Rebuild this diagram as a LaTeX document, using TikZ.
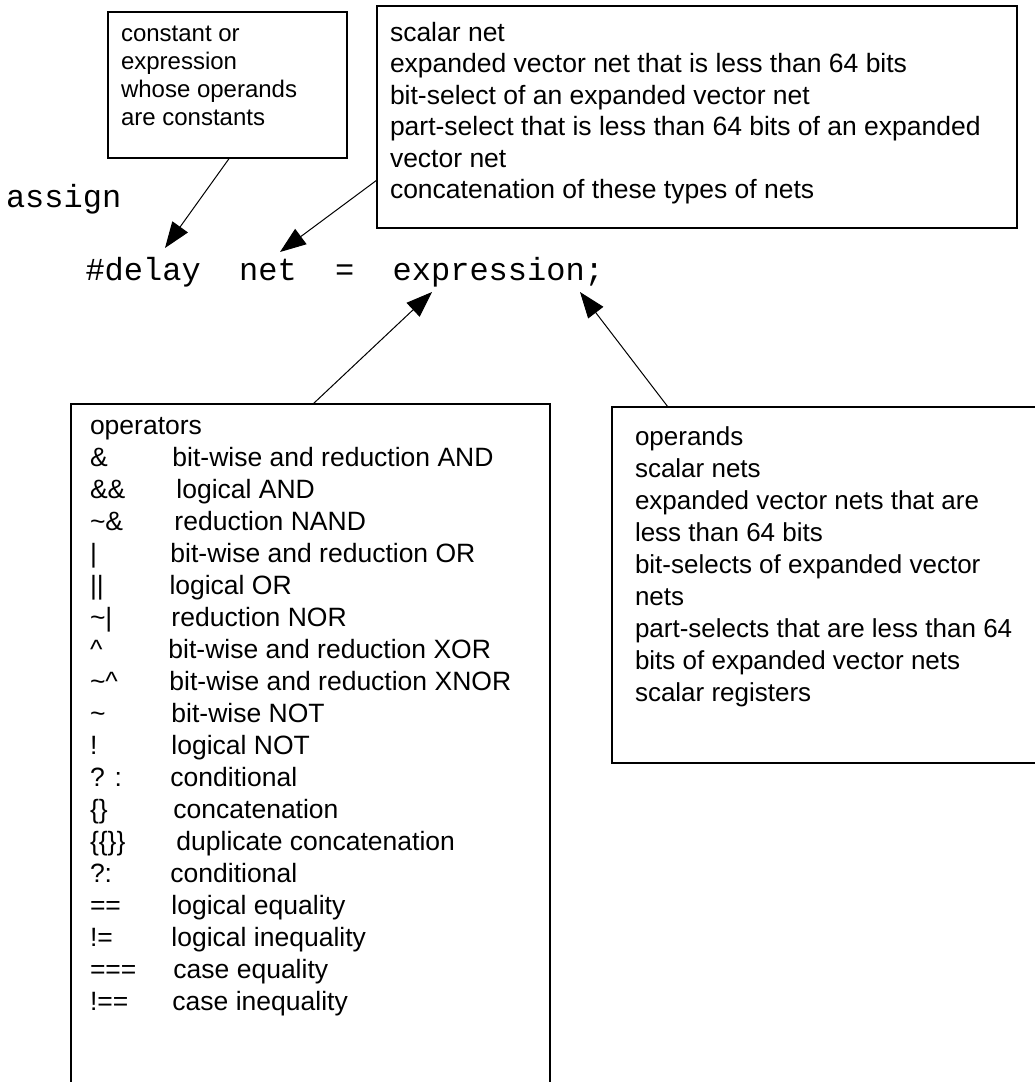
\documentclass[tikz,border=0pt]{standalone}
\usepackage{fontspec}
\setmainfont{Liberation Sans}
\setmonofont{Liberation Mono}
\usetikzlibrary{arrows.meta,calc}
\begin{document}
\begin{tikzpicture}[x=1pt,y=-1pt,
  box/.style={draw, line width=1.1pt, inner sep=0pt, outer sep=0pt, anchor=north west},
  conn/.style={line width=1pt, -{Triangle[length=26pt,width=19pt]}},
  lbl/.style={anchor=base west, inner sep=0pt, outer sep=0pt},
  code/.style={lbl, font=\fontsize{32}{36}\selectfont\ttfamily},
  txtA/.style={lbl, font=\fontsize{24}{28}\selectfont},
  txtB/.style={lbl, font=\fontsize{26.5}{31.5}\selectfont},
  txtC/.style={lbl, font=\fontsize{26.5}{32}\selectfont},
  txtD/.style={lbl, font=\fontsize{26}{32}\selectfont}]
\clip (0,0) rectangle (1035,1082);
\fill[white] (0,0) rectangle (1035,1082);

% boxes
\node[box, minimum width=239pt, minimum height=146pt] (b1) at (108,12) {};
\node[box, minimum width=640pt, minimum height=222pt] (b2) at (377,6) {};
\node[box, minimum width=479pt, minimum height=720pt] (ops) at (71,404) {};
\node[box, minimum width=450pt, minimum height=356pt] (opd) at (612,407) {};

% box texts
\node[txtA] (t1) at (121,41) {\begin{tabular}[t]{@{}l@{}}constant or\\expression\\whose operands\\are constants\end{tabular}};
\node[txtB] (t2) at (390,41) {\begin{tabular}[t]{@{}l@{}}scalar net\\expanded vector net that is less than 64 bits\\bit-select of an expanded vector net\\part-select that is less than 64 bits of an expanded\\vector net\\concatenation of these types of nets\end{tabular}};
\node[txtC] (t3) at (90,434) {\begin{tabular}[t]{@{}p{79.5pt}@{}l@{}}
\multicolumn{2}{@{}l@{}}{operators}\\
\& & \hspace{3pt}bit-wise and reduction AND\\
\&\& & \hspace{7pt}logical AND\\
\textasciitilde\& & \hspace{5pt}reduction NAND\\
| & \hspace{1pt}bit-wise and reduction OR\\
|| & logical OR\\
\textasciitilde| & \hspace{2pt}reduction NOR\\
\textasciicircum & \hspace{-1pt}bit-wise and reduction XOR\\
\textasciitilde\textasciicircum & bit-wise and reduction XNOR\\
\textasciitilde & \hspace{2pt}bit-wise NOT\\
! & \hspace{2pt}logical NOT\\
? : & \hspace{1pt}conditional\\
\{\} & \hspace{4pt}concatenation\\
\{\{\}\} & \hspace{7pt}duplicate concatenation\\
?: & \hspace{1pt}conditional\\
== & \hspace{2pt}logical equality\\
!= & \hspace{2pt}logical inequality\\
=== & \hspace{4pt}case equality\\
!== & \hspace{3pt}case inequality
\end{tabular}};
\node[txtD] (t4) at (635,445) {\begin{tabular}[t]{@{}l@{}}operands\\scalar nets\\expanded vector nets that are\\less than 64 bits\\bit-selects of expanded vector\\nets\\part-selects that are less than 64\\bits of expanded vector nets\\scalar registers\end{tabular}};

% code
\node[code] (assign) at (6,207) {assign};
\node[code] (delay) at (85.5,280) {\#delay};
\node[code] (net) at (239.1,280) {net};
\node[code] (eq) at (335.1,280) {=};
\node[code] (expr) at (392.7,280) {expression;};

% arrow tips
\coordinate (tipA) at (165,248);
\coordinate (tipB) at (280,252);
\coordinate (tipC) at (432,292);
\coordinate (tipD) at (580,292);

\draw[conn] ([xshift=2pt]b1.south) -- (tipA);
\draw[conn] ([yshift=-63pt]b2.west) -- (tipB);
\draw[conn] ([xshift=2.5pt]ops.north) -- (tipC);
\draw[conn] ([xshift=56pt]opd.north west) -- (tipD);
\end{tikzpicture}
\end{document}
